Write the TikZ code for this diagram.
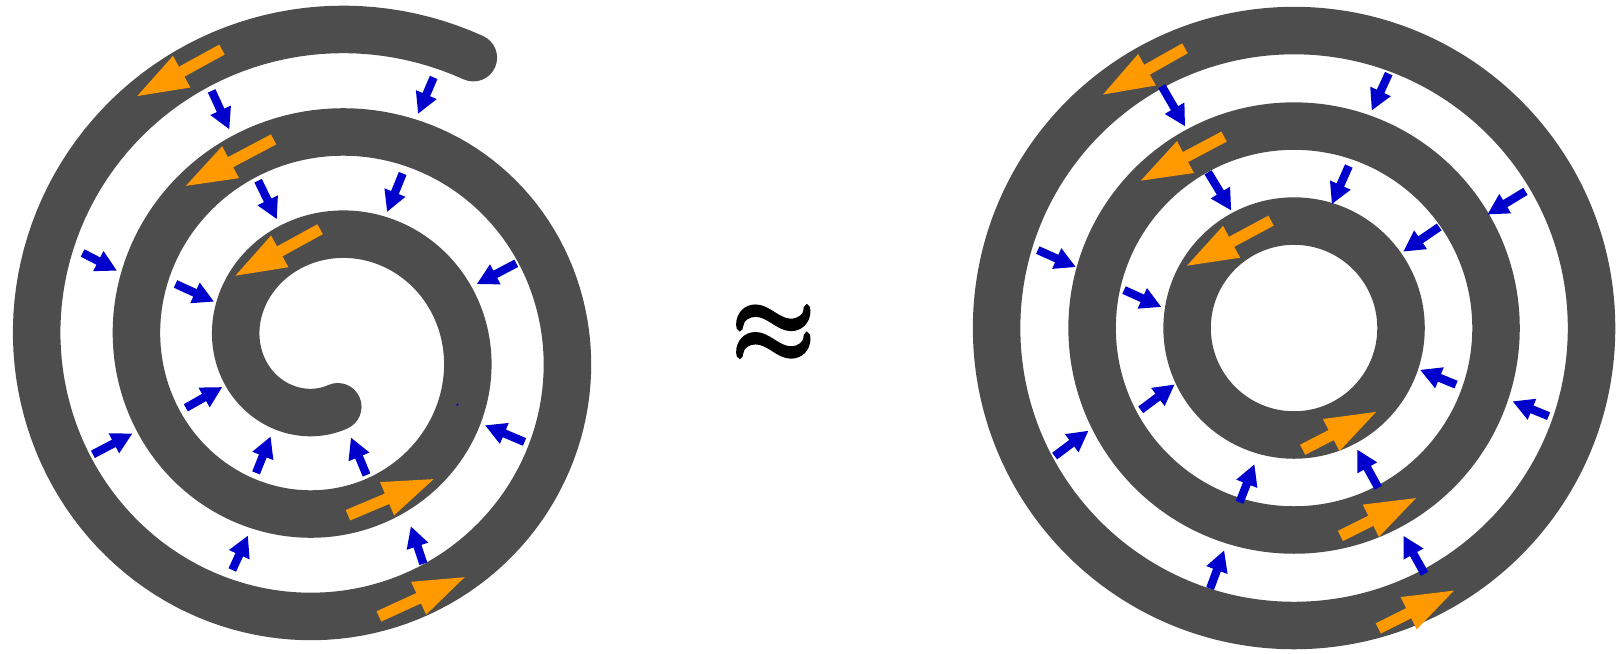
\documentclass[tikz,border=0pt]{standalone}
\usetikzlibrary{calc}
\definecolor{bandgray}{HTML}{4D4D4D}
\definecolor{arrorange}{HTML}{FF9900}
\definecolor{arrblue}{HTML}{0000CC}
\newcommand{\blockarrow}[6]{%
  \coordinate (ta) at #2;
  \coordinate (tp) at #3;
  \coordinate (hb) at ($(tp)!#6!(ta)$);
  \fill[#1] ($(ta)!#4!90:(tp)$) -- ($(hb)!#4!90:(tp)$) -- ($(hb)!#5!90:(tp)$) -- (tp)
     -- ($(hb)!#5!-90:(tp)$) -- ($(hb)!#4!-90:(tp)$) -- ($(ta)!#4!-90:(tp)$) -- cycle;}
\newcommand{\orangearr}[2]{\blockarrow{arrorange}{#1}{#2}{5.5pt}{17.5pt}{49pt}}
\newcommand{\bluearr}[2]{\blockarrow{arrblue}{#1}{#2}{4pt}{11pt}{20pt}}
\begin{document}
\begin{tikzpicture}[x=1pt,y=-1pt,
  band/.style={draw=bandgray, line width=46pt, line join=round}]
\useasboundingbox (0,0) rectangle (1568,633);
% ---- approx sign ----
\node[inner sep=0pt] (apx) at (749,324) {\scalebox{9}[10]{\special{pdf:literal direct 2 Tr 0.35 w}\boldmath$\approx$\special{pdf:literal direct 0 Tr}}};
% ---- left spiral ----
\draw[band, line cap=round] plot[domain=80:1017, samples=400, variable=\tt]
  ({316.7+(38.7+0.269*\tt)*cos(\tt)}, {337.6+(35.1+0.2764*\tt)*sin(\tt)});
% orange arrows (left)
\orangearr{(215,48)}{(133,93)}
\orangearr{(265,135)}{(180,180)}
\orangearr{(310,222)}{(228,267)}
\orangearr{(337,499)}{(420,464)}
\orangearr{(367,597)}{(450,559)}
% blue arrows (left)
\bluearr{(205,88)}{(222,125)}
\bluearr{(420,75)}{(405,110)}
\bluearr{(250,175)}{(268,212)}
\bluearr{(390,168)}{(375,205)}
\bluearr{(80,245)}{(113,262)}
\bluearr{(500,255)}{(462,275)}
\bluearr{(170,275)}{(207,292)}
\bluearr{(180,395)}{(215,375)}
\bluearr{(90,440)}{(128,420)}
\bluearr{(248,458)}{(262,423)}
\bluearr{(355,460)}{(340,424)}
\bluearr{(508,428)}{(470,412)}
\bluearr{(225,552)}{(240,519)}
\bluearr{(410,546)}{(398,510)}
\fill[arrblue] (443,392) circle[radius=1.2];
% ---- right rings ----
\draw[band] (1253.3,317.7) circle[radius=103.6];
\draw[band] (1253.3,317.7) circle[radius=195.6];
\draw[band] (1253.3,317.7) circle[radius=288.1];
% orange arrows (right)
\orangearr{(1147.6,46.8)}{(1068.2,91.6)}
\orangearr{(1185.5,132.3)}{(1104.8,175)}
\orangearr{(1231,213.7)}{(1149.6,257.3)}
\orangearr{(1261.6,435.6)}{(1332.8,398.9)}
\orangearr{(1298.2,519.1)}{(1371.4,482.4)}
\orangearr{(1334.8,608.6)}{(1408.1,572)}
% blue arrows (right)
\bluearr{(1125.2,83.5)}{(1147.6,122.1)}
\bluearr{(1345,71.3)}{(1328.7,106.7)}
\bluearr{(1170,166.9)}{(1192.3,203.6)}
\bluearr{(1306.3,160.8)}{(1290,197.5)}
\bluearr{(1477.4,185.3)}{(1440.7,207.6)}
\bluearr{(1005.1,242.2)}{(1041.7,258.5)}
\bluearr{(1393.9,219.8)}{(1359.3,243.5)}
\bluearr{(1088.6,280.9)}{(1124.5,297.2)}
\bluearr{(1104.8,396.9)}{(1137.4,372.5)}
\bluearr{(1410.2,372.5)}{(1375.6,358.3)}
\bluearr{(1021.4,441.7)}{(1054,417.3)}
\bluearr{(1499.8,403)}{(1465.2,388.8)}
\bluearr{(1200.5,486.5)}{(1214.8,449.9)}
\bluearr{(1334.8,472.3)}{(1314.5,435.6)}
\bluearr{(1172,570)}{(1185.5,533.3)}
\bluearr{(1379.7,555.7)}{(1359.3,519.1)}
\end{tikzpicture}
\end{document}
